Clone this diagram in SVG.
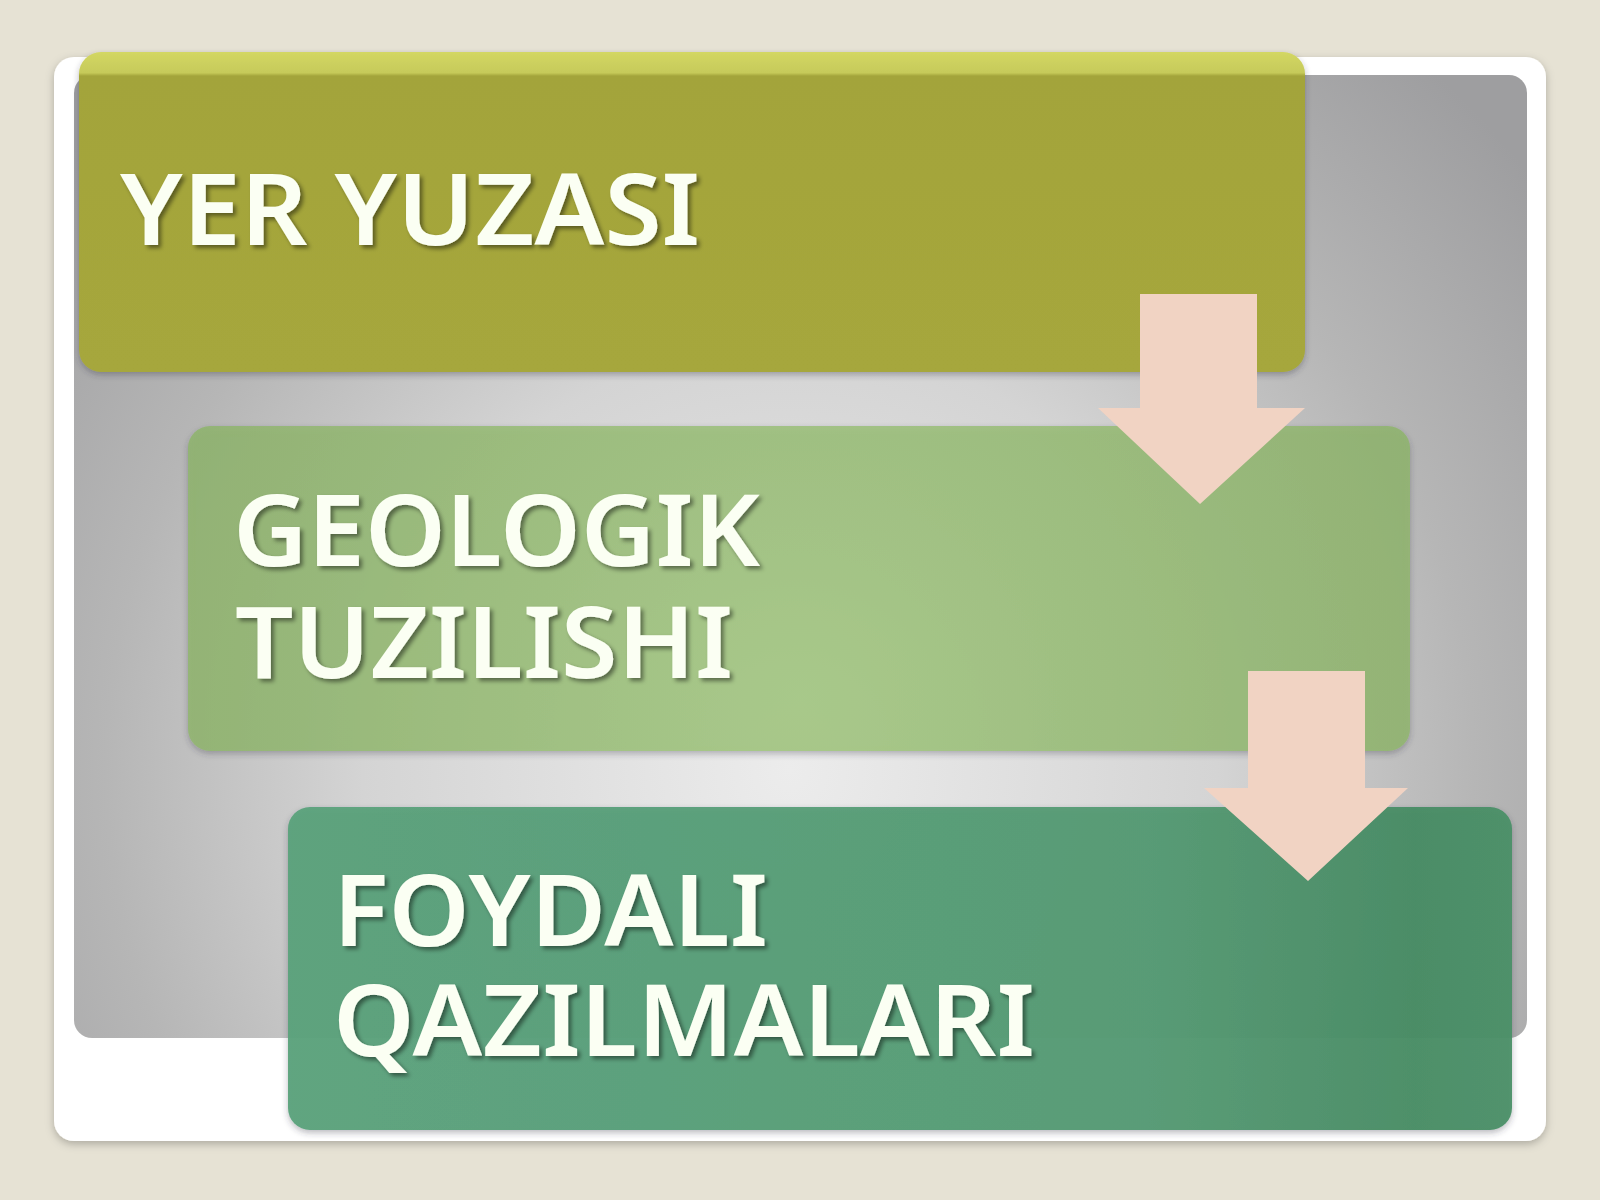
<svg xmlns="http://www.w3.org/2000/svg" width="1600" height="1200" viewBox="0 0 1600 1200">
  <defs>
    <radialGradient id="panelGrad" gradientUnits="userSpaceOnUse" cx="790" cy="770" r="950">
      <stop offset="0" stop-color="#ececec"/>
      <stop offset="0.45" stop-color="#d4d4d4"/>
      <stop offset="0.72" stop-color="#b6b6b6"/>
      <stop offset="1" stop-color="#9e9ea0"/>
    </radialGradient>
    <linearGradient id="box1Grad" gradientUnits="userSpaceOnUse" x1="0" y1="52" x2="0" y2="372">
      <stop offset="0" stop-color="#d3d763"/>
      <stop offset="0.065" stop-color="#c6ca5a"/>
      <stop offset="0.075" stop-color="#a3a43a"/>
      <stop offset="1" stop-color="#a6a73c"/>
    </linearGradient>
    <radialGradient id="box2Grad" gradientUnits="userSpaceOnUse" cx="800" cy="700" r="700">
      <stop offset="0" stop-color="#a6c985"/>
      <stop offset="1" stop-color="#8fb26f"/>
    </radialGradient>
    <linearGradient id="box3Grad" gradientUnits="userSpaceOnUse" x1="288" y1="0" x2="1512" y2="0">
      <stop offset="0" stop-color="#5aa27c"/>
      <stop offset="0.7" stop-color="#549a73"/>
      <stop offset="0.92" stop-color="#478c64"/>
      <stop offset="1" stop-color="#4a9068"/>
    </linearGradient>
    <filter id="frameShadow" x="-5%" y="-5%" width="110%" height="110%">
      <feDropShadow dx="0" dy="3" stdDeviation="4" flood-color="#000" flood-opacity="0.25"/>
    </filter>
    <filter id="boxShadow" x="-5%" y="-5%" width="110%" height="115%">
      <feDropShadow dx="0" dy="3" stdDeviation="3" flood-color="#303040" flood-opacity="0.35"/>
    </filter>
    <filter id="textShadow" x="-5%" y="-10%" width="110%" height="130%">
      <feDropShadow dx="3" dy="3" stdDeviation="2" flood-color="#000" flood-opacity="0.45"/>
    </filter>
    <style>
      .label { font-family: "Noto Sans", "Open Sans", "DejaVu Sans", sans-serif; font-weight: 600; font-size: 100px; fill: #fbfff3; filter: url(#textShadow); }
      .arrow { fill: #f1d3c3; }
    </style>
  </defs>

  <rect x="0" y="0" width="1600" height="1200" fill="#e6e2d4"/>

  <g id="frame">
    <rect x="54" y="57" width="1492" height="1084" rx="20" ry="20" fill="#ffffff" filter="url(#frameShadow)"/>
    <rect x="74" y="75" width="1453" height="963" rx="18" ry="18" fill="url(#panelGrad)"/>
  </g>

  <g id="node-yer-yuzasi">
    <rect x="79" y="52" width="1226" height="320" rx="22" ry="22" fill="url(#box1Grad)" filter="url(#boxShadow)"/>
    <text class="label" x="120" y="245" textLength="580" lengthAdjust="spacingAndGlyphs">YER YUZASI</text>
  </g>

  <g id="node-geologik">
    <rect x="188" y="426" width="1222" height="325" rx="22" ry="22" fill="url(#box2Grad)" fill-opacity="0.9" filter="url(#boxShadow)"/>
    <text class="label"><tspan x="233" y="566" textLength="527" lengthAdjust="spacingAndGlyphs">GEOLOGIK</tspan><tspan x="235" y="678" textLength="498" lengthAdjust="spacingAndGlyphs">TUZILISHI</tspan></text>
  </g>

  <g id="node-foydali">
    <rect x="288" y="807" width="1224" height="323" rx="22" ry="22" fill="url(#box3Grad)" fill-opacity="0.95" filter="url(#boxShadow)"/>
    <text class="label"><tspan x="333" y="946" textLength="435" lengthAdjust="spacingAndGlyphs">FOYDALI</tspan><tspan x="333" y="1056" textLength="702" lengthAdjust="spacingAndGlyphs">QAZILMALARI</tspan></text>
  </g>

  <g id="connectors">
    <polygon class="arrow" points="1140,294 1257,294 1257,408 1305,408 1200,504 1098,408 1140,408"/>
    <polygon class="arrow" points="1248,671 1365,671 1365,788 1408,788 1308,881 1204,788 1248,788"/>
  </g>
</svg>
